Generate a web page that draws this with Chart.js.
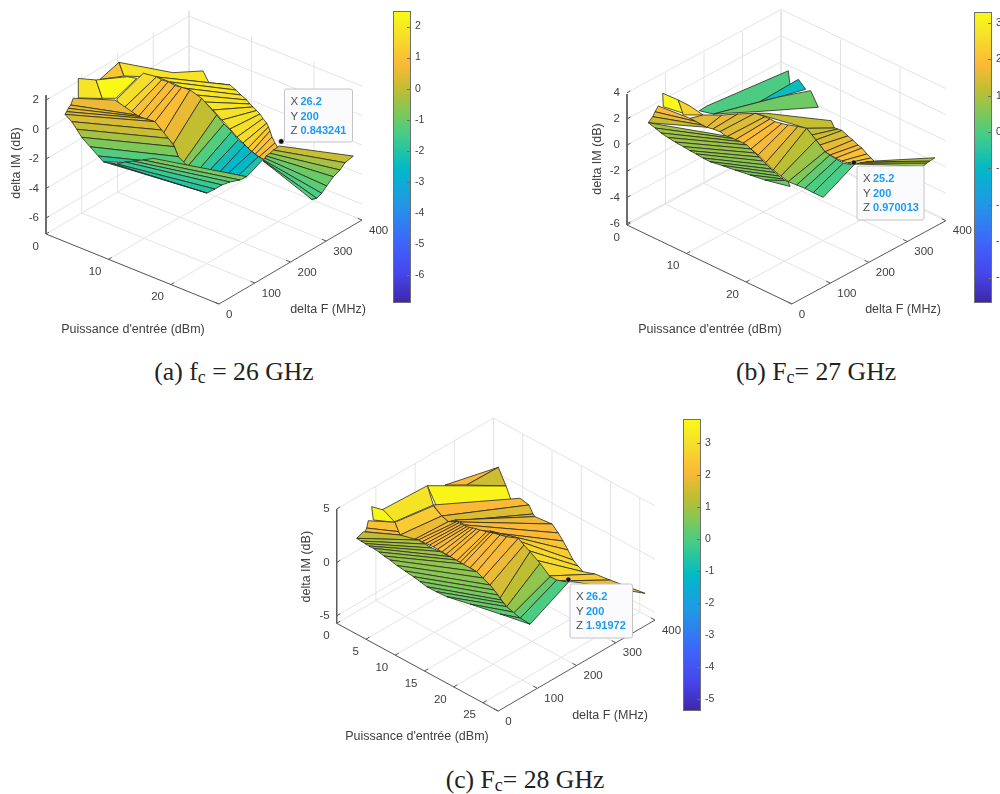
<!DOCTYPE html>
<html>
<head>
<meta charset="utf-8">
<script src="https://cdn.jsdelivr.net/npm/chart.js@4/dist/chart.umd.min.js"></script>
<style>
  body { margin: 0; background: #fff; width: 1000px; height: 794px; overflow: hidden; position: relative; }
  canvas { position: absolute; }
  .cap { position: absolute; transform: translateX(-50%); font: 25.7px "Liberation Serif", serif; color: #222; white-space: nowrap; line-height: 28px; }
  .cap sub { font-size: 18px; line-height: 0; vertical-align: -3px; }
</style>
</head>
<body>
<canvas id="surfA" width="392" height="345" style="left:0;top:0"></canvas>
<canvas id="surfB" width="384" height="345" style="left:590px;top:0"></canvas>
<canvas id="surfC" width="387" height="345" style="left:296px;top:405px"></canvas>
<canvas id="barA" width="45" height="304" style="left:393px;top:5px"></canvas>
<canvas id="barB" width="45" height="303" style="left:974px;top:6px"></canvas>
<canvas id="barC" width="45" height="304" style="left:683px;top:413px"></canvas>
<div class="cap" style="left:234px;top:358px">(a) f<sub>c</sub> = 26 GHz</div>
<div class="cap" style="left:816px;top:358px">(b) F<sub>c</sub>= 27 GHz</div>
<div class="cap" style="left:525px;top:766px">(c) F<sub>c</sub>= 28 GHz</div>
<script>
// ticks
const freqTicks = [0, 100, 200, 300, 400];
const powerTicksA = [0, 10, 20];
const powerTicksB = [0, 10, 20];
const powerTicksC = [0, 5, 10, 15, 20, 25];
const imTicksA = [2, 0, -2, -4, -6];
const imTicksB = [4, 2, 0, -2, -4, -6];
const imTicksC = [5, 0, -5];
const barTicksA = [2, 1, 0, -1, -2, -3, -4, -5, -6];
const barTicksB = [3, 2, 1, 0, -1, -2, -3, -4];
const barTicksC = [3, 2, 1, 0, -1, -2, -3, -4, -5];
const barRangeA = [-6.9, 2.5];
const barRangeB = [-4.7, 3.3];
const barRangeC = [-5.37, 3.76];

// data tips: X, Y, Z
const tipA = [26.2, 200, 0.843241];
const tipB = [25.2, 200, 0.970013];
const tipC = [26.2, 200, 1.91972];

// ---- 26 GHz ----
const aBoxPower = [0.02, 2.85, 3.86, 0];
const aBoxFreq = [90, 90, 90, 90];
const aBoxIM = [2.19, 2.57, 1.49, 0.86];
const aOrangePower = [0.06, 0.24, 1.04];
const aOrangeFreq = [150, 200, 200];
const aOrangeIM = [1.28, 1.75, 0.96];
const aCrestPower = [0.24, 3.16, 7.96, 8.92, 12.28, 6.32, 1.04];
const aCrestFreq = [200, 300, 300, 300, 300, 200, 200];
const aCrestIM = [1.75, 0.13, 1.07, 0.42, 0.86, 1.8, 0.96];
const aBrightPower = [2.85, 3.86, 6.05, 5.94, 4.43];
const aBrightFreq = [90, 90, 90, 150, 150];
const aBrightIM = [2.57, 1.5, 1.88, 2.36, 2.21];

const aFanFreq = [200, 300];
const aFanPower = [
  [6.32, 8.4, 10.48, 12.56, 14, 15.28, 16.72, 18, 19.12, 20.08, 20.88, 21.52, 22.08, 22.64, 23.33],
  [12.28, 13.24, 14.04, 14.95, 15.48, 15.96, 16.55, 17.08, 17.56, 18.15, 18.44, 18.68, 19, 19.48, 19.96]];
const aFanIM = [
  [1.8, 1.82, 1.77, 1.65, 1.42, 1.1, 0.67, 0.28, -0.07, -0.31, -0.52, -0.64, -0.72, -0.82, -0.86],
  [0.86, 0.68, 0.48, 0.3, 0.12, 0, -0.14, -0.29, -0.51, -0.73, -0.93, -1.16, -1.52, -1.84, -2.1]];
const aFanC = [1.9, 1.9, 1.85, 1.8, 1.85, 1.75, 1.8, 1.7, 1.6, 1.4, 1.2, 1.05, 0.95, 0.9];

const aMidFreq = [100, 200];
const aMidPower = [
  [5.59, 6.39, 7.72, 9.05, 10.39, 11.72, 13.05, 14.65, 15.99, 17.05, 18.92, 20.52, 22.12, 23.45, 25.05, 26.39],
  [4.13, 6.27, 7.07, 8.13, 9.2, 10.27, 11.6, 13.47, 15.87, 17.04, 18.27, 19.33, 20.4, 21.47, 22.53, 23.33]];
const aMidIM = [
  [1.59, 1, 1, 1, 1.08, 1.12, 0.56, 0.11, -1.08, -0.95, -0.8, -0.64, -0.49, -0.37, -0.25, -0.09],
  [1.68, 1.81, 1.73, 1.79, 1.71, 1.78, 1.83, 1.58, 0.86, 0.45, 0.14, -0.24, -0.39, -0.66, -0.82, -0.86]];
const aMidC = [1.7, 1.4, 1, 0.9, 0.9, 0.9, 0.55, 0, -0.7, -1.3, -1.8, -2.3, -2.6, -2.6, -2.1];

const aLeftFreq = [50, 100];
const aLeftPower = [
  [1.5, 1.09, 0.7, 0.45, 0.18, 1.25, 2.05, 2.85, 4.18, 5.5, 6.3],
  [5.32, 8.79, 9.32, 9.85, 11.72, 12.79, 13.85, 14.82, 15.45, 16.79, 16.79]];
const aLeftIM = [
  [1.67, 1.14, 0.85, 0.58, 0.35, 0.04, -0.34, -0.75, -1.16, -1.56, -1.81],
  [1.49, 1.07, 1.05, 1.03, 1.12, 0.74, 0.36, -0.04, -0.61, -0.95, -0.95]];
const aLeftC = [0.6, 0.5, 0.45, 0.4, 0.3, 0.1, -0.3, -0.8, -1.3, -1.9];

const aLowFreq = [50, 100];
const aLowPower = [
  [14.3, 12.66, 11.06, 9.78, 8.5, 7.38, 6.3],
  [26.39, 25.32, 23.72, 22.44, 21.32, 20.04, 20.04]];
const aLowIM = [
  [-0.21, -0.6, -0.95, -1.23, -1.59, -1.71, -1.81],
  [-0.09, -0.5, -0.91, -1.33, -1.8, -2.29, -2.29]];
const aLowC = [-0.8, -1.1, -1.4, -1.7, -2, -2.3];

const aRightFreq = [200, 400];
const aRightPower = [
  [25.89, 24.93, 24.4, 23.76, 23.6, 23.33, 23.33, 23.33],
  [26.29, 24.96, 24.16, 23.09, 22.03, 21.23, 20.43, 19.63]];
const aRightIM = [
  [0.48, 0.04, -0.27, -0.56, -0.75, -0.91, -0.96, -0.98],
  [-2.98, -3.66, -4.29, -4.93, -5.74, -6.37, -6.85, -7.06]];
const aRightC = [0.1, -0.3, -0.7, -1, -1.2, -1.4, -1.3];
const aRimPower = [23.33, 22.68, 19.63, 20.43];
const aRimFreq = [200, 300, 400, 400];
const aRimIM = [-0.98, -4, -7.06, -6.85];

// ---- 27 GHz ----
const bBack1Power = [2.44, 3.69, 1.23, 1.51, 2.94, 4.82];
const bBack1Freq = [150, 150, 400, 400, 300, 150];
const bBack1IM = [0.77, 1.4, -0.41, -1.44, -0.81, 1.04];
const bBack2Power = [2.94, 2.91, 4.15, 6.3];
const bBack2Freq = [300, 400, 400, 300];
const bBack2IM = [-0.81, -0.7, -1.19, 0.3];
const bBack3Power = [4.82, 6.3, 4.99, 6.27, 2.39];
const bBack3Freq = [150, 300, 400, 400, 300];
const bBack3IM = [1.04, 0.3, -1.11, -2.1, -1.69];
const bPeakPower = [2.76, 5.38, 6.22, 2.86];
const bPeakFreq = [50, 50, 50, 50];
const bPeakIM = [3.76, 3.82, 2.99, 2.76];
const bShoulderPower = [5.38, 7.35, 9.53, 6.22];
const bShoulderFreq = [50, 50, 50, 50];
const bShoulderIM = [3.82, 3.79, 3.58, 2.86];
const bBandPower = [8.57, 10.53, 14.9, 15.46, 17.25];
const bBandFreq = [200, 200, 300, 300, 200];
const bBandIM = [1.12, 1.54, 0.34, -0.1, 1.86];

const bFanFreq = [200, 300];
const bFanPower = [
  [17.25, 18.14, 18.82, 19.49, 20.33, 21.17, 22.18, 23.18, 24.19, 25.37],
  [15.54, 16.04, 16.72, 17.72, 18.56, 19.4, 20.08, 20.92, 21.59, 22.26]];
const bFanIM = [
  [1.86, 1.54, 1.31, 1.07, 0.74, 0.67, 0.66, 0.65, 0.72, 0.9],
  [-0.08, -0.05, -0.01, -0.21, -0.34, -0.54, -0.62, -0.89, -1.05, -1.21]];
const bFanC = [1.2, 1.3, 1.4, 1.6, 1.7, 1.8, 2, 2.1, 2.1];

const bThinFreq = [50, 100];
const bThinPower = [[2.02, 1.47, 1.08, 0.34], [4.12, 5.24, 6.08, 6.92]];
const bThinIM = [[2.63, 2.07, 1.61, 0.99], [1.35, 1.34, 1.27, 1.28]];
const bThinC = [1.9, 1.6, 1.25];

const bTopFreq = [100, 100];
const bTopPower = [[6.3, 9.49, 12.18, 15.04], [4.12, 6.92, 7.98, 9.16]];
const bTopIM = [[2.08, 2.77, 3.44, 4.11], [1.35, 1.28, 1.38, 1.43]];
const bTopC = [1.55, 1.65, 1.5];

const bMidFreq = [100, 200];
const bMidPower = [
  [9.16, 10.33, 11.68, 13.02, 14.36, 15.59, 16.88, 18.11, 19.4, 20.63, 22.04, 23.44, 24.83, 26.51],
  [8.57, 10.25, 11.09, 11.93, 13.1, 14.16, 15.79, 17.25, 18.82, 20.33, 21.17, 22.29, 23.4, 25.2]];
const bMidIM = [
  [1.43, 1.3, 1.34, 1.38, 1.24, 1.05, 0.76, 0.45, 0.27, 0.11, 0.16, 0.21, 0.18, 0.19],
  [1.12, 1.22, 1.23, 1.21, 1.32, 1.44, 1.68, 1.86, 1.31, 0.74, 0.67, 0.59, 0.53, 0.79]];
const bMidC = [1.5, 1.6, 1.9, 1.9, 1.8, 1.7, 1.4, 1.1, 0.8, 0.5, 0.2, 0, -0.05];

const bLeftFreq = [50, 100];
const bLeftPower = [
  [0.34, 1.47, 2.48, 3.65, 4.83, 6.22, 7.35, 8.36, 9.53, 10.71, 12.73, 14.91, 17.43, 19.95, 24.15],
  [10.28, 11.34, 12.52, 13.64, 14.36, 15.04, 15.71, 16.38, 17.05, 17.72, 18.4, 19.07, 19.74, 20.08, 20.63]];
const bLeftIM = [
  [0.99, 0.83, 0.67, 0.58, 0.49, 0.44, 0.38, 0.35, 0.29, 0.27, 0.42, 0.55, 0.72, 0.88, 1.3],
  [1.34, 1.38, 1.41, 1.39, 1.24, 1.08, 0.92, 0.76, 0.6, 0.44, 0.32, 0.2, 0.12, 0.08, 0.11]];
const bLeftC = [0.85, 0.85, 0.8, 0.8, 0.75, 0.75, 0.7, 0.65, 0.6, 0.55, 0.5, 0.45, 0.4, 0.3];

const bRightFreq = [[200, 200, 200, 250], 400];
const bRightPower = [[25.37, 26.21, 27.22, 25.49], [23.91, 24.53, 25.03, 25.87]];
const bRightIM = [[0.9, 1.16, 1.46, 0.36], [-2.75, -2.38, -2.12, -1.69]];
const bRightC = [0.8, 0.9, 1.1];

// ---- 28 GHz ----
const cBackPower = [1.76, 4.17, 2.12];
const cBackFreq = [250, 350, 300];
const cBackIM = [2.44, 2.69, 1.49];
const cOlivePower = [2.12, 4.17, 8.85];
const cOliveFreq = [300, 350, 300];
const cOliveIM = [1.49, 2.69, 3.4];
const cRoofPower = [2.1, 8.85, 9.65, 3.69];
const cRoofFreq = [200, 300, 300, 200];
const cRoofIM = [3.55, 3.4, 2.39, 2.05];
const cSlopePower = [0.99, 2.1, 3.11, 2.98];
const cSlopeFreq = [100, 200, 200, 100];
const cSlopeIM = [3.07, 3.55, 2.04, 2.51];
const cPeakPower = [0.62, 1.27, 3.27, 2.91];
const cPeakFreq = [80, 100, 100, 50];
const cPeakIM = [3.7, 3.16, 2.6, 3.77];
const cStep1Power = [3.27, 3.11, 4.55, 4.12];
const cStep1Freq = [100, 200, 200, 100];
const cStep1IM = [2.6, 1.95, 1.44, 1.66];
const cStep2Power = [4.12, 4.55, 5.68, 6.4];
const cStep2Freq = [100, 200, 200, 100];
const cStep2IM = [1.66, 1.44, 1.24, 1.87];
const cWedgePower = [6.4, 5.68, 7.12, 7.25];
const cWedgeFreq = [100, 200, 200, 100];
const cWedgeIM = [1.87, 1.24, 1.67, 2.12];
const cLipPower = [0.07, 1.2, 4.12, 7.25];
const cLipFreq = [50, 50, 100, 100];
const cLipIM = [1.21, 2.16, 1.66, 2.12];

const cEdgeFreq = [50, 100];
const cEdgePower = [[2.05, 1.78, 1.49], [3.27, 3.95, 4.12]];
const cEdgeIM = [[3.45, 2.68, 2.25], [2.6, 1.92, 1.66]];
const cEdgeC = [2.3, 2.1];

const cBandFreq = [200, [300, 300, 300, 300, 300, 300, 300, 300, 300, 300, 300, 300, 350, 400]];
const cBandPower = [
  [3.11, 4.55, 5.68, 6.83, 7.68, 8.53, 9.39, 12.81, 16.23, 17.94, 20.5, 22.72, 24.21, 27.34],
  [11.23, 12.77, 13.46, 13.8, 16.71, 17.78, 18.59, 19.44, 20.3, 21.15, 22.01, 24.06, 23.27, 25.91]];
const cBandIM = [
  [2.04, 1.44, 1.24, 1.74, 1.81, 1.78, 1.57, 2.49, 2.86, 2.43, 2.07, 1.23, 1.21, 2.04],
  [2.96, 2.79, 2.15, 2, 2.18, 1.66, 1.15, 0.56, -0.12, -0.43, -0.71, -0.32, -2.18, -3.71]];
const cBandC = [2.1, 1.7, 1.6, 1.9, 2.1, 2.1, 2.4, 2.6, 2.8, 2.9, 2.8, 2.5, 1.8];

const cMidFreq = [100, 200];
const cMidPower = [
  [7.25, 7.9, 8.57, 9.2, 9.82, 10.55, 11.3, 12, 12.67, 13.87, 14.4, 14.95, 16.09, 17.24, 18.31, 19.51, 21.22, 22.37, 23.5, 24.64, 26.35],
  [7.12, 7.55, 8.02, 8.4, 8.82, 9.35, 9.9, 10.5, 11.1, 12.24, 12.8, 13.32, 14.52, 15.66, 17.65, 18.62, 19.65, 21.36, 23.07, 24.21, 26.2]];
const cMidIM = [
  [2.12, 2.15, 2.19, 2.23, 2.26, 2.24, 2.21, 2.2, 2.18, 2.18, 2.16, 2.14, 2.14, 2.13, 1.86, 1.56, 0.83, 0.38, 0.1, -0.03, -0.08],
  [1.67, 1.7, 1.72, 1.71, 1.71, 1.8, 1.91, 2, 2.08, 2.26, 2.36, 2.46, 2.63, 2.81, 3.25, 2.91, 2.59, 2.01, 1.27, 1.3, 1.68]];
const cMidC = [2.1, 2.15, 2.1, 2.15, 2.1, 2.2, 2.15, 2.1, 2.15, 2.1, 2.15, 2.1, 2.05, 2.05, 1.9, 1.6, 1.3, 0.8, 0.3, 0];

const cLowFreq = [[50, 50, 50, 50, 50, 50, 50, 50, 50, 50, 50, 50, 50, 50, 50, 50, 50, 100], 100];
const cLowPower = [
  [0.07, 0.8, 1.49, 2.17, 2.91, 3.88, 4.74, 5.76, 6.96, 8.33, 9.75, 10.89, 12.04, 13.63, 15.46, 19.44, 24.57, 26.35],
  [7.25, 8.4, 9.59, 10.96, 12.67, 13.7, 14.89, 17.24, 18.31, 19.51, 20.2, 20.88, 21.39, 21.82, 22.37, 23.44, 24.64, 26.35]];
const cLowIM = [
  [1.21, 1.17, 1.14, 1.11, 1.12, 1.06, 0.94, 0.87, 0.71, 0.61, 0.5, 0.38, 0.24, 0.26, 0.32, 0.82, 1.42, -0.08],
  [2.12, 2.09, 2.07, 2.15, 2.18, 2.17, 2.15, 2.13, 1.86, 1.56, 1.3, 1.03, 0.72, 0.56, 0.38, 0.2, 0, -0.08]];
const cLowC = [1.1, 1.05, 1, 0.95, 0.9, 0.85, 0.8, 0.75, 0.7, 0.65, 0.6, 0.5, 0.4, 0.35, 0.3, 0.2, 0.1];

// parula
const parulaStops = [[0, 62, 38, 168], [0.1, 70, 70, 235], [0.205, 62, 100, 250], [0.337, 35, 150, 230], [0.46, 0, 185, 200],
  [0.52, 35, 195, 165], [0.58, 70, 205, 135], [0.65, 125, 200, 90], [0.73, 190, 190, 50], [0.82, 252, 185, 55], [0.92, 245, 225, 40], [1, 250, 250, 20]];

function parula(t) {
  t = Math.max(0, Math.min(1, t));
  for (let i = 1; i < parulaStops.length; i++) {
    const a = parulaStops[i - 1], b = parulaStops[i];
    if (t <= b[0]) {
      const f = (t - a[0]) / (b[0] - a[0]);
      return 'rgb(' + [1, 2, 3].map(k => Math.round(a[k] + f * (b[k] - a[k]))).join(',') + ')';
    }
  }
  return 'rgb(250,250,20)';
}

function drawSurface(cfg) {
  const { view, range } = cfg;
  const project = (X, Y, Z) => ({
    x: view.ox + view.xx * X + view.yx * Y,
    y: view.oy + view.xy * X + view.yy * Y - view.zy * (Z - view.zmin)
  });
  const colour = v => parula((v - range[0]) / (range[1] - range[0]));
  const sets = [];
  const line = (pts, col, w) => sets.push({ data: pts, showLine: true, fill: false, borderColor: col, borderWidth: w, pointRadius: 0, clip: false });
  const poly = (pts, c) => sets.push({
    data: pts.concat([pts[0]]), showLine: true, fill: 'shape', backgroundColor: colour(c), borderColor: '#2a2a20', borderWidth: 0.8, pointRadius: 0, clip: false
  });

  // walls and floor
  const grid = '#e3e3e3', { xmax, zmax, zmin } = view;
  cfg.imTicks.forEach(z => {
    line([project(0, 0, z), project(0, 400, z), project(xmax, 400, z)], grid, 1);
  });
  freqTicks.forEach(y => {
    line([project(xmax, y, zmin), project(0, y, zmin), project(0, y, zmax)], grid, 1);
  });
  cfg.powerTicks.forEach(x => {
    line([project(x, 0, zmin), project(x, 400, zmin), project(x, 400, zmax)], grid, 1);
  });
  line([project(0, 400, zmin), project(0, 400, zmax)], grid, 1);

  // axes
  const axis = '#5a5a5a';
  line([project(0, 0, zmax), project(0, 0, zmin), project(xmax, 0, zmin), project(xmax, 400, zmin)], axis, 1);
  cfg.powerTicks.forEach(x => line([project(x, 0, zmin), project(x, 9, zmin)], axis, 1));
  freqTicks.forEach(y => line([project(xmax, y, zmin), project(xmax - 0.7, y, zmin)], axis, 1));
  cfg.imTicks.forEach(z => line([project(0, 0, z), project(0, 9, z)], axis, 1));

  // surface, back to front
  cfg.patches.forEach(p => {
    if (p.strip) {
      const [pw, fr, im, cs] = p.strip;
      const f = (r, i) => Array.isArray(fr[r]) ? fr[r][i] : fr[r];
      for (let i = 0; i < cs.length; i++) {
        poly([project(pw[0][i], f(0, i), im[0][i]), project(pw[1][i], f(1, i), im[1][i]),
          project(pw[1][i + 1], f(1, i + 1), im[1][i + 1]), project(pw[0][i + 1], f(0, i + 1), im[0][i + 1])], cs[i]);
      }
    } else {
      const [pw, fr, im, c] = p.face;
      poly(pw.map((x, i) => project(x, fr[i], im[i])), c);
    }
  });

  // data tip marker
  const tipPoint = project(cfg.tip[0], cfg.tip[1], cfg.tip[2]);
  sets.push({ data: [tipPoint], pointRadius: 2.6, pointBackgroundColor: '#111', pointBorderColor: '#ddd', pointBorderWidth: 0.5, clip: false });

  const labels = {
    id: 'labels',
    afterDraw(chart) {
      const g = chart.ctx, sx = chart.scales.x, sy = chart.scales.y;
      const at = p => [sx.getPixelForValue(p.x), sy.getPixelForValue(p.y)];
      const text = (s, x, y, align, font, col) => {
        g.font = font; g.fillStyle = col; g.textAlign = align; g.textBaseline = 'middle'; g.fillText(s, x, y);
      };
      const tickFont = '11.5px "Liberation Sans"', titleFont = '12.5px "Liberation Sans"', ink = '#404040';
      g.save();
      cfg.powerTicks.forEach(x => { const [a, b] = at(project(x, 0, zmin)); text(String(x), a - 7, b + 12.5, 'right', tickFont, ink); });
      freqTicks.forEach(y => { const [a, b] = at(project(xmax, y, zmin)); text(String(y), a + 7, b + 10.5, 'left', tickFont, ink); });
      cfg.imTicks.forEach(z => { const [a, b] = at(project(0, 0, z)); text(String(z), a - 7, b, 'right', tickFont, ink); });
      text("Puissance d'entrée (dBm)", sx.getPixelForValue(cfg.xTitle[0]), sy.getPixelForValue(cfg.xTitle[1]), 'center', titleFont, ink);
      text('delta F (MHz)', sx.getPixelForValue(cfg.yTitle[0]), sy.getPixelForValue(cfg.yTitle[1]), 'center', titleFont, ink);
      g.save();
      g.translate(sx.getPixelForValue(cfg.zTitle[0]), sy.getPixelForValue(cfg.zTitle[1]));
      g.rotate(-Math.PI / 2);
      text('delta IM (dB)', 0, 0, 'center', titleFont, ink);
      g.restore();

      // data tip box
      const [bx, by, bw, bh] = cfg.tipBox;
      const x0 = sx.getPixelForValue(bx), y0 = sy.getPixelForValue(by);
      g.beginPath();
      g.roundRect(x0, y0, bw, bh, 2);
      g.fillStyle = '#fbfbfe'; g.fill();
      g.strokeStyle = '#c4c4c8'; g.lineWidth = 1; g.stroke();
      ['X', 'Y', 'Z'].forEach((n, i) => {
        const ly = y0 + 13 + i * 14.6;
        text(n, x0 + 6, ly, 'left', '11.5px "Liberation Sans"', '#505050');
        text(String(cfg.tip[i]), x0 + 16, ly, 'left', 'bold 11px "Liberation Sans"', '#1b9cf2');
      });
      g.restore();
    }
  };

  new Chart(document.getElementById(cfg.canvas), {
    type: 'scatter',
    data: { datasets: sets.reverse() },
    options: {
      responsive: false, animation: false, devicePixelRatio: 1,
      layout: { padding: 0, autoPadding: false },
      scales: {
        x: { type: 'linear', display: false, min: cfg.bounds[0], max: cfg.bounds[1] },
        y: { type: 'linear', display: false, min: cfg.bounds[2], max: cfg.bounds[3], reverse: true }
      },
      plugins: { legend: { display: false }, tooltip: { enabled: false } }
    },
    plugins: [labels]
  });
}

function drawColourBar(id, range, ticks) {
  new Chart(document.getElementById(id), {
    type: 'bar',
    data: {
      labels: [''],
      datasets: [{
        data: [range],
        barPercentage: 1, categoryPercentage: 1, borderWidth: 0,
        backgroundColor(c) {
          const a = c.chart.chartArea;
          if (!a) return '#888';
          const gr = c.chart.ctx.createLinearGradient(0, a.bottom, 0, a.top);
          parulaStops.forEach(s => gr.addColorStop(s[0], 'rgb(' + s[1] + ',' + s[2] + ',' + s[3] + ')'));
          return gr;
        }
      }]
    },
    options: {
      responsive: false, animation: false, devicePixelRatio: 1,
      layout: { padding: { top: 6, bottom: 6, left: 0, right: 0 }, autoPadding: false },
      scales: {
        x: { display: false },
        y: {
          position: 'right', min: range[0], max: range[1],
          grid: { display: false, drawTicks: false }, border: { display: false },
          afterBuildTicks: s => { s.ticks = ticks.map(v => ({ value: v })); },
          afterFit: s => { s.width = 27; s.paddingTop = 0; s.paddingBottom = 0; },
          ticks: { color: '#404040', font: { family: 'Liberation Sans', size: 10.5 }, padding: 4, autoSkip: false }
        }
      },
      plugins: { legend: { display: false }, tooltip: { enabled: false } }
    },
    plugins: [{
      id: 'frame',
      afterDraw(chart) {
        const g = chart.ctx, a = chart.chartArea, sy = chart.scales.y;
        g.save();
        g.strokeStyle = '#6f6f6f'; g.lineWidth = 1;
        g.strokeRect(a.left + 0.5, a.top + 0.5, a.right - a.left - 1, a.bottom - a.top - 1);
        ticks.forEach(v => {
          const y = Math.round(sy.getPixelForValue(v)) + 0.5;
          g.beginPath(); g.moveTo(a.right - 4, y); g.lineTo(a.right - 1, y); g.stroke();
        });
        g.restore();
      }
    }]
  });
}

drawSurface({
  canvas: 'surfA', bounds: [0, 392, 0, 345], range: barRangeA, tip: tipA, tipBox: [284.5, 89, 68, 53],
  powerTicks: powerTicksA, imTicks: imTicksA,
  view: { ox: 46, oy: 234, xx: 6.25, xy: 2.53, yx: 0.3575, yy: -0.21, zy: 14.75, zmin: -7.08, zmax: 2.34, xmax: 27.68 },
  xTitle: [133, 330], yTitle: [328, 310], zTitle: [17, 163],
  patches: [
    { face: [aBoxPower, aBoxFreq, aBoxIM, 1.85] },
    { face: [aOrangePower, aOrangeFreq, aOrangeIM, 1.1] },
    { face: [aCrestPower, aCrestFreq, aCrestIM, 1.85] },
    { face: [aBrightPower, aBrightFreq, aBrightIM, 2.45] },
    { strip: [aFanPower, aFanFreq, aFanIM, aFanC] },
    { strip: [aMidPower, aMidFreq, aMidIM, aMidC] },
    { strip: [aLeftPower, aLeftFreq, aLeftIM, aLeftC] },
    { strip: [aLowPower, aLowFreq, aLowIM, aLowC] },
    { face: [aRimPower, aRimFreq, aRimIM, 0.8] },
    { strip: [aRightPower, aRightFreq, aRightIM, aRightC] }
  ]
});

drawSurface({
  canvas: 'surfB', bounds: [590, 974, 0, 345], range: barRangeB, tip: tipB, tipBox: [857, 166, 67, 54],
  powerTicks: powerTicksB, imTicks: imTicksB,
  view: { ox: 627, oy: 225, xx: 5.95, xy: 2.85, yx: 0.385, yy: -0.208, zy: 13.1, zmin: -6.1, zmax: 3.9, xmax: 27.7 },
  xTitle: [710, 330], yTitle: [903, 310], zTitle: [598, 159],
  patches: [
    { face: [bBack1Power, bBack1Freq, bBack1IM, 0] },
    { face: [bBack2Power, bBack2Freq, bBack2IM, -0.9] },
    { face: [bBack3Power, bBack3Freq, bBack3IM, 0.35] },
    { face: [bBandPower, bBandFreq, bBandIM, 1.2] },
    { strip: [bFanPower, bFanFreq, bFanIM, bFanC] },
    { face: [bPeakPower, bPeakFreq, bPeakIM, 3.25] },
    { face: [bShoulderPower, bShoulderFreq, bShoulderIM, 2.4] },
    { strip: [bThinPower, bThinFreq, bThinIM, bThinC] },
    { strip: [bTopPower, bTopFreq, bTopIM, bTopC] },
    { strip: [bMidPower, bMidFreq, bMidIM, bMidC] },
    { strip: [bLeftPower, bLeftFreq, bLeftIM, bLeftC] },
    { strip: [bRightPower, bRightFreq, bRightIM, bRightC] }
  ]
});

drawSurface({
  canvas: 'surfC', bounds: [296, 683, 405, 750], range: barRangeC, tip: tipC, tipBox: [570, 584, 62.5, 54],
  powerTicks: powerTicksC, imTicks: imTicksC,
  view: { ox: 336.7, oy: 623.3, xx: 5.85, xy: 3.18, yx: 0.392, yy: -0.2275, zy: 10.67, zmin: -5.71, zmax: 5, xmax: 27.6 },
  xTitle: [417, 736.5], yTitle: [610, 716], zTitle: [307, 566.7],
  patches: [
    { face: [cBackPower, cBackFreq, cBackIM, 2.1] },
    { face: [cOlivePower, cOliveFreq, cOliveIM, 1.5] },
    { face: [cRoofPower, cRoofFreq, cRoofIM, 3.6] },
    { face: [cSlopePower, cSlopeFreq, cSlopeIM, 3.1] },
    { face: [cPeakPower, cPeakFreq, cPeakIM, 3.6] },
    { strip: [cBandPower, cBandFreq, cBandIM, cBandC] },
    { strip: [cEdgePower, cEdgeFreq, cEdgeIM, cEdgeC] },
    { face: [cStep1Power, cStep1Freq, cStep1IM, 2.5] },
    { face: [cStep2Power, cStep2Freq, cStep2IM, 1.9] },
    { face: [cWedgePower, cWedgeFreq, cWedgeIM, 2.1] },
    { face: [cLipPower, cLipFreq, cLipIM, 1.3] },
    { strip: [cMidPower, cMidFreq, cMidIM, cMidC] },
    { strip: [cLowPower, cLowFreq, cLowIM, cLowC] }
  ]
});

drawColourBar('barA', barRangeA, barTicksA);
drawColourBar('barB', barRangeB, barTicksB);
drawColourBar('barC', barRangeC, barTicksC);
</script>
</body>
</html>
